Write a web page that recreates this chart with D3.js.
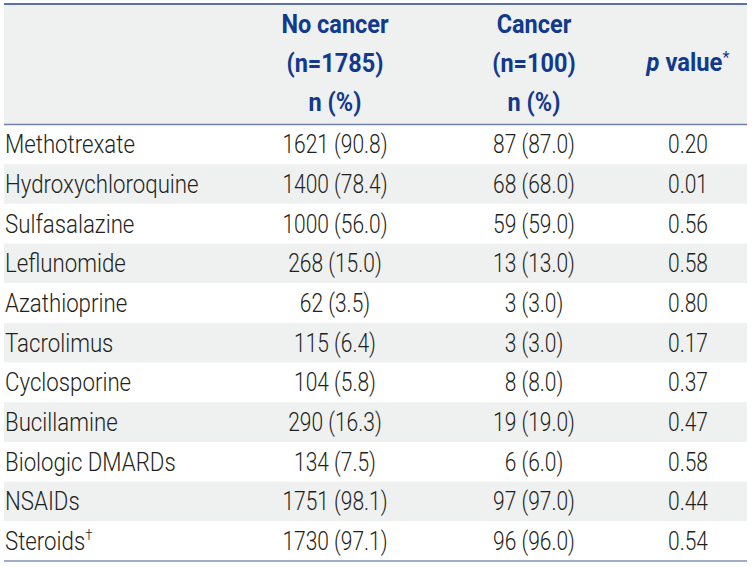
<!DOCTYPE html>
<html><head><meta charset="utf-8">
<script src="https://cdn.jsdelivr.net/npm/d3@7"></script>
<style>
html,body{margin:0;padding:0;background:#fff;}
svg text{font-family:"Roboto","Liberation Sans",sans-serif;}
</style></head>
<body><svg id="c" width="752" height="567"></svg>
<script>
const drugs = ["Methotrexate","Hydroxychloroquine","Sulfasalazine","Leflunomide","Azathioprine","Tacrolimus","Cyclosporine","Bucillamine","Biologic DMARDs","NSAIDs","Steroids"];
const noCancer = ["1621 (90.8)","1400 (78.4)","1000 (56.0)","268 (15.0)","62 (3.5)","115 (6.4)","104 (5.8)","290 (16.3)","134 (7.5)","1751 (98.1)","1730 (97.1)"];
const cancer = ["87 (87.0)","68 (68.0)","59 (59.0)","13 (13.0)","3 (3.0)","3 (3.0)","8 (8.0)","19 (19.0)","6 (6.0)","97 (97.0)","96 (96.0)"];
const pValues = ["0.20","0.01","0.56","0.58","0.80","0.17","0.37","0.47","0.58","0.44","0.54"];
const footMarks = ["","","","","","","","","","","†"];
const headNoCancer = ["No cancer","(n=1785)","n (%)"];
const headCancer = ["Cancer","(n=100)","n (%)"];

const svg = d3.select("#c");
const left = 4, right = 747;
const headTop = 4, headBottom = 124.5, tableBottom = 561;
const y = d3.scaleBand().domain(drugs).range([headBottom, tableBottom]).padding(0);
const col = {label: 5, noc: 335, can: 534, p: 688};
const blue = "#123a8c";
const textCol = "#231f20";

// header background
svg.append("rect").attr("x", left).attr("y", headTop).attr("width", right-left).attr("height", headBottom-headTop).attr("fill", "#eff0f0");
// row stripes
svg.selectAll("rect.row").data(drugs).join("rect").attr("class","row")
  .attr("x", left).attr("y", d => y(d)).attr("width", right-left).attr("height", y.bandwidth())
  .attr("fill", (d,i) => i % 2 === 1 ? "#eff0f0" : "#ffffff");

// lines
svg.append("line").attr("x1", left).attr("x2", right).attr("y1", headTop).attr("y2", headTop).attr("stroke", "#5a72a6").attr("stroke-width", 2);
svg.append("line").attr("x1", left).attr("x2", right).attr("y1", headBottom).attr("y2", headBottom).attr("stroke", "#6f82aa").attr("stroke-width", 1.5);
svg.append("line").attr("x1", left).attr("x2", right).attr("y1", tableBottom).attr("y2", tableBottom).attr("stroke", "#9fadc8").attr("stroke-width", 2);

// helper: condensed text placed at (x, y)
function place(parent, x, yy, sx, anchor) {
  return parent.append("g").attr("transform", `translate(${x},${yy}) scale(${sx},1)`)
    .append("text").attr("text-anchor", anchor);
}

// header text
const hBase = [33, 72, 111];
const hdr = svg.append("g").attr("font-weight", "bold").attr("fill", blue).attr("font-size", 25);
headNoCancer.forEach((t,i) => place(hdr, col.noc, hBase[i], 0.94, "middle").text(t));
headCancer.forEach((t,i) => place(hdr, col.can, hBase[i], 0.94, "middle").text(t));
const pv = place(hdr, col.p, 71, 0.95, "middle");
pv.append("tspan").attr("font-style", "italic").text("p");
pv.append("tspan").text(" value");
pv.append("tspan").attr("font-weight", "normal").attr("font-size", 17).attr("dy", -8).text("*");

// body text
const body = svg.append("g").attr("font-size", 25).attr("fill", textCol).attr("font-weight", 300);
const rowBase = d => y(d) + y.bandwidth()/2 + 9;
drugs.forEach((d,i) => {
  const t = place(body, col.label, rowBase(d), 0.89, "start");
  t.append("tspan").text(d);
  if (footMarks[i]) t.append("tspan").attr("font-size", 15).attr("dy", -10).text(footMarks[i]);
  place(body, col.noc, rowBase(d), 0.84, "middle").text(noCancer[i]);
  place(body, col.can, rowBase(d), 0.84, "middle").text(cancer[i]);
  place(body, col.p, rowBase(d), 0.84, "middle").text(pValues[i]);
});
</script></body></html>
